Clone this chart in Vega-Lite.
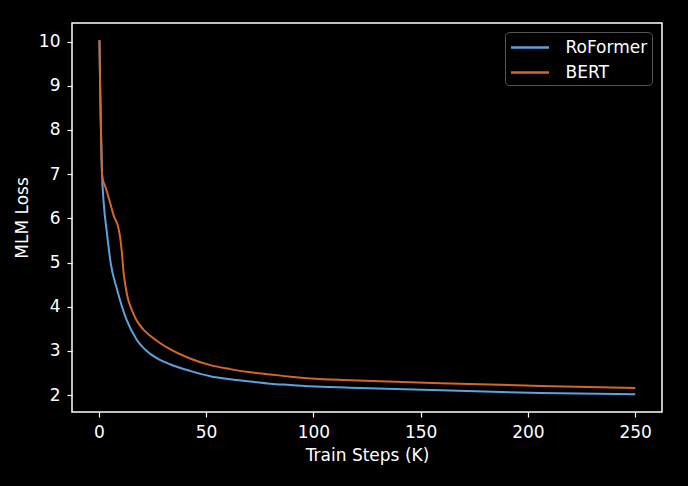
{
  "$schema": "https://vega.github.io/schema/vega-lite/v6.json",
  "autosize": "none",
  "padding": {"left": 72, "top": 23, "right": 26, "bottom": 74},
  "width": 590,
  "height": 389,
  "background": "black",
  "data": {
    "values": [
      {"step": 0.3, "loss": 10.03, "model": "RoFormer"},
      {"step": 0.6, "loss": 9.0, "model": "RoFormer"},
      {"step": 1.0, "loss": 8.0, "model": "RoFormer"},
      {"step": 1.5, "loss": 7.0, "model": "RoFormer"},
      {"step": 2.2, "loss": 6.4, "model": "RoFormer"},
      {"step": 3.8, "loss": 5.66, "model": "RoFormer"},
      {"step": 5.5, "loss": 5.0, "model": "RoFormer"},
      {"step": 8.5, "loss": 4.39, "model": "RoFormer"},
      {"step": 12.9, "loss": 3.71, "model": "RoFormer"},
      {"step": 17.6, "loss": 3.26, "model": "RoFormer"},
      {"step": 23.8, "loss": 2.94, "model": "RoFormer"},
      {"step": 28.5, "loss": 2.8, "model": "RoFormer"},
      {"step": 33.2, "loss": 2.7, "model": "RoFormer"},
      {"step": 42.5, "loss": 2.55, "model": "RoFormer"},
      {"step": 51.9, "loss": 2.43, "model": "RoFormer"},
      {"step": 61.2, "loss": 2.36, "model": "RoFormer"},
      {"step": 70.6, "loss": 2.31, "model": "RoFormer"},
      {"step": 79.9, "loss": 2.26, "model": "RoFormer"},
      {"step": 89.3, "loss": 2.23, "model": "RoFormer"},
      {"step": 98.6, "loss": 2.2, "model": "RoFormer"},
      {"step": 117.3, "loss": 2.17, "model": "RoFormer"},
      {"step": 159.3, "loss": 2.11, "model": "RoFormer"},
      {"step": 206, "loss": 2.05, "model": "RoFormer"},
      {"step": 250, "loss": 2.02, "model": "RoFormer"},
      {"step": 0.3, "loss": 10.03, "model": "BERT"},
      {"step": 0.6, "loss": 9.0, "model": "BERT"},
      {"step": 1.0, "loss": 8.0, "model": "BERT"},
      {"step": 1.5, "loss": 7.0, "model": "BERT"},
      {"step": 2.0, "loss": 6.85, "model": "BERT"},
      {"step": 2.8, "loss": 6.75, "model": "BERT"},
      {"step": 5.0, "loss": 6.4, "model": "BERT"},
      {"step": 7.1, "loss": 6.04, "model": "BERT"},
      {"step": 9.0, "loss": 5.81, "model": "BERT"},
      {"step": 10.0, "loss": 5.55, "model": "BERT"},
      {"step": 10.8, "loss": 5.2, "model": "BERT"},
      {"step": 11.5, "loss": 4.8, "model": "BERT"},
      {"step": 12.5, "loss": 4.45, "model": "BERT"},
      {"step": 13.5, "loss": 4.2, "model": "BERT"},
      {"step": 15.3, "loss": 3.94, "model": "BERT"},
      {"step": 17.5, "loss": 3.7, "model": "BERT"},
      {"step": 20.7, "loss": 3.49, "model": "BERT"},
      {"step": 23.8, "loss": 3.35, "model": "BERT"},
      {"step": 28.5, "loss": 3.18, "model": "BERT"},
      {"step": 33.2, "loss": 3.04, "model": "BERT"},
      {"step": 42.5, "loss": 2.83, "model": "BERT"},
      {"step": 51.9, "loss": 2.68, "model": "BERT"},
      {"step": 61.2, "loss": 2.59, "model": "BERT"},
      {"step": 70.6, "loss": 2.52, "model": "BERT"},
      {"step": 79.9, "loss": 2.47, "model": "BERT"},
      {"step": 89.3, "loss": 2.42, "model": "BERT"},
      {"step": 98.6, "loss": 2.38, "model": "BERT"},
      {"step": 117.3, "loss": 2.34, "model": "BERT"},
      {"step": 159.3, "loss": 2.27, "model": "BERT"},
      {"step": 206, "loss": 2.21, "model": "BERT"},
      {"step": 250, "loss": 2.165, "model": "BERT"}
    ]
  },
  "mark": {"type": "line", "strokeWidth": 2, "interpolate": "monotone"},
  "encoding": {
    "x": {
      "field": "step", "type": "quantitative", "title": "Train Steps (K)",
      "scale": {"domain": [-12.5, 262.5], "nice": false, "zero": false},
      "axis": {"values": [0, 50, 100, 150, 200, 250], "titlePadding": 7}
    },
    "y": {
      "field": "loss", "type": "quantitative", "title": "MLM Loss",
      "scale": {"domain": [1.62, 10.42], "nice": false, "zero": false},
      "axis": {"values": [2, 3, 4, 5, 6, 7, 8, 9, 10], "titlePadding": 7}
    },
    "color": {
      "field": "model", "type": "nominal", "sort": ["RoFormer", "BERT"],
      "scale": {"domain": ["RoFormer", "BERT"], "range": ["#5DA2DC", "#D6662A"]},
      "legend": {
        "title": null, "orient": "none", "legendX": 433, "legendY": 9,
        "symbolType": "M-1.9,0H1.9", "symbolSize": 400, "symbolStrokeWidth": 2.5,
        "symbolOffset": 9.5,
        "labelFontSize": 17, "labelColor": "white", "labelFont": "DejaVu Sans",
        "padding": 4, "rowPadding": 5, "labelOffset": 24,
        "fillColor": "black", "strokeColor": "#555555", "cornerRadius": 4
      }
    }
  },
  "config": {
    "view": {"stroke": "white", "strokeWidth": 1.5},
    "axis": {
      "grid": false, "domain": false,
      "tickColor": "white", "tickSize": 5, "tickWidth": 1.2,
      "labelColor": "white", "labelFont": "DejaVu Sans", "labelFontSize": 17, "labelPadding": 7,
      "titleColor": "white", "titleFont": "DejaVu Sans", "titleFontSize": 17, "titleFontWeight": "normal"
    }
  }
}
